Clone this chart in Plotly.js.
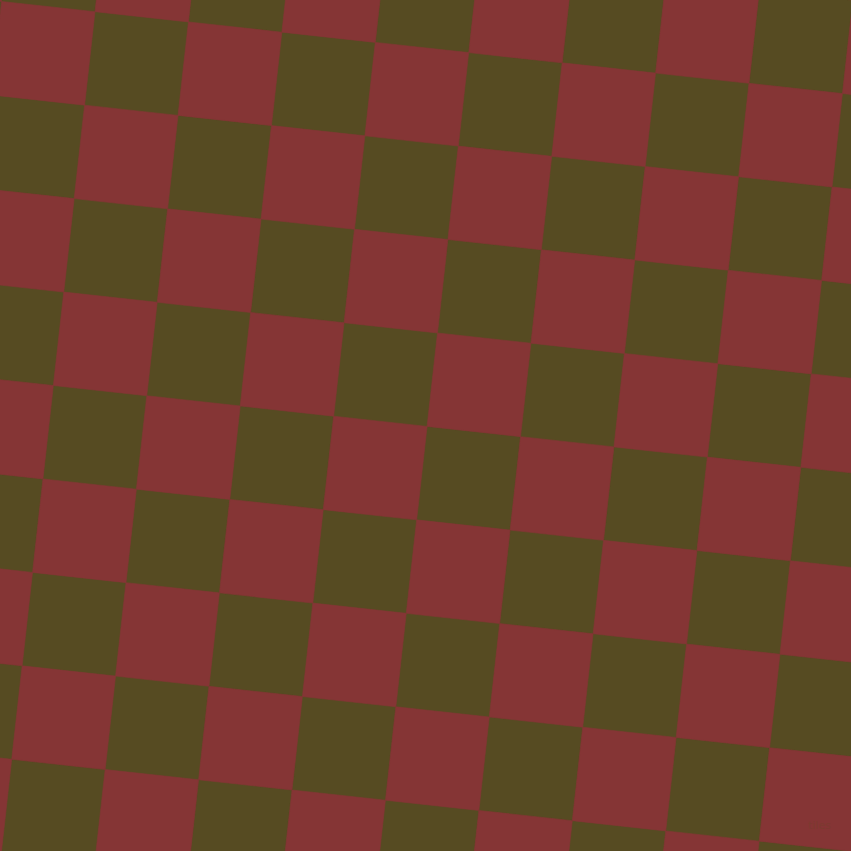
<!DOCTYPE html>
<html>
<head>
<meta charset="utf-8">
<script src="https://cdn.plot.ly/plotly-3.0.1.min.js"></script>
<style>
  html, body { margin: 0; padding: 0; background: #564b22; }
  #chart { width: 851px; height: 851px; }
</style>
</head>
<body>
<div id="chart"></div>
<script>
// tile grid
var colIndex = [-2, -1, 0, 1, 2, 3, 4, 5, 6, 7, 8, 9];
var rowIndex = [-2, -1, 0, 1, 2, 3, 4, 5, 6, 7, 8, 9, 10];
var tileNames = ['olive', 'red'];
var tileColors = ['#564b22', '#853535'];
var gridOrigin = [95.0, 11.7];     // a corner where four tiles meet
var stepAcross = [93.43, 10.23];   // one tile to the right
var stepDown = [-10.41, 93.45];    // one tile down

function corner(i, j) {
  return [gridOrigin[0] + i * stepAcross[0] + j * stepDown[0],
          gridOrigin[1] + i * stepAcross[1] + j * stepDown[1]];
}

var traces = tileNames.map(function(name, k) {
  var xs = [], ys = [];
  colIndex.forEach(function(i) {
    rowIndex.forEach(function(j) {
      if (((i + j) % 2 + 2) % 2 !== k) return;
      var pts = [corner(i, j), corner(i + 1, j), corner(i + 1, j + 1), corner(i, j + 1), corner(i, j)];
      pts.forEach(function(p) { xs.push(p[0]); ys.push(p[1]); });
      xs.push(null); ys.push(null);
    });
  });
  return {
    x: xs, y: ys,
    type: 'scatter',
    mode: 'lines',
    fill: 'toself',
    fillcolor: tileColors[k],
    line: { color: tileColors[k], width: 0.6 },
    hoverinfo: 'skip',
    name: name
  };
});

var layout = {
  width: 851,
  height: 851,
  margin: { l: 0, r: 0, t: 0, b: 0 },
  paper_bgcolor: '#564b22',
  plot_bgcolor: '#564b22',
  showlegend: false,
  xaxis: { range: [0, 851], visible: false, fixedrange: true },
  yaxis: { range: [851, 0], visible: false, fixedrange: true },
  annotations: [{
    x: 819, y: 825, xref: 'x', yref: 'y',
    text: 'tiles', showarrow: false,
    font: { family: 'DejaVu Sans', size: 11, color: '#7c3a30' }
  }]
};

Plotly.newPlot('chart', traces, layout, { displayModeBar: false, staticPlot: true });
</script>
</body>
</html>
